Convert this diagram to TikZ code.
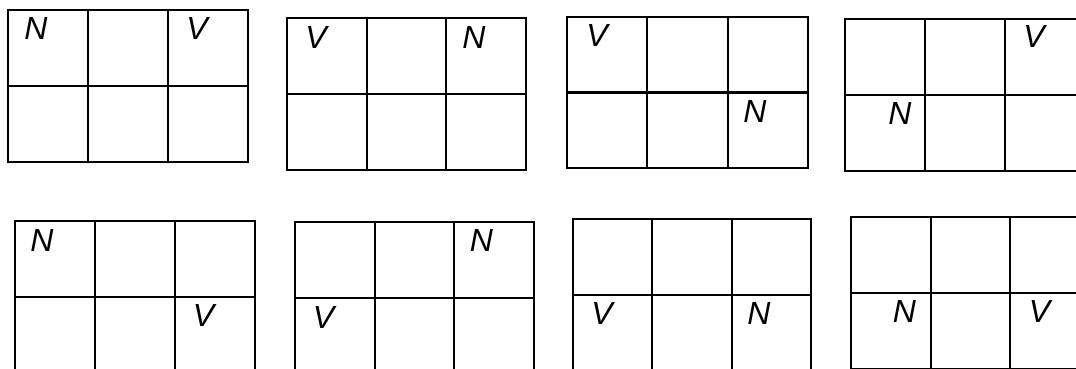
\documentclass[tikz,border=0pt]{standalone}
\usepackage{fontspec}
\setmainfont{Liberation Sans}
\begin{document}
\begin{tikzpicture}[x=1pt,y=-1pt,
  gridline/.style={line width=2.3pt,black},
  lbl/.style={inner sep=0pt,font=\fontsize{32}{32}\selectfont\itshape,text height=22.9pt,text depth=0pt}]
\useasboundingbox (0,0) rectangle (1076,368);
\clip (0,0) rectangle (1076,368);
\newcommand\tablegrid[4]{%
  \draw[gridline] (#1,#2) rectangle (#3,#4);
  \draw[gridline] (#1,{(#2+#4)/2}) -- (#3,{(#2+#4)/2});
  \draw[gridline] ({#1+(#3-#1)/3},#2) -- ({#1+(#3-#1)/3},#4);
  \draw[gridline] ({#1+2*(#3-#1)/3},#2) -- ({#1+2*(#3-#1)/3},#4);}
\tablegrid{8}{10}{248}{162}
\tablegrid{287}{18}{526}{170}
\tablegrid{567}{17}{808}{168}
\tablegrid{845}{19}{1085}{171}
\tablegrid{15}{221}{255}{373}
\tablegrid{295}{222}{534}{374}
\tablegrid{573}{219}{811}{371}
\tablegrid{851}{217}{1090}{369}
\node[lbl] (n1) at (36,28.5) {N};
\node[lbl] (v1) at (197,28.5) {V};
\node[lbl] (v2) at (316,37) {V};
\node[lbl] (n2) at (474,37) {N};
\node[lbl] (v3) at (597,35.5) {V};
\node[lbl] (n3) at (755,111.5) {N};
\node[lbl] (v4) at (1034,36.5) {V};
\node[lbl] (n4) at (900,113.5) {N};
\node[lbl] (n5) at (42,240) {N};
\node[lbl] (v5) at (203.5,315.5) {V};
\node[lbl] (n6) at (481.5,240.5) {N};
\node[lbl] (v6) at (323.5,317) {V};
\node[lbl] (v7) at (602,313.5) {V};
\node[lbl] (n7) at (759,313.5) {N};
\node[lbl] (n8) at (904.5,311.5) {N};
\node[lbl] (v8) at (1039.5,311.5) {V};
\end{tikzpicture}
\end{document}
